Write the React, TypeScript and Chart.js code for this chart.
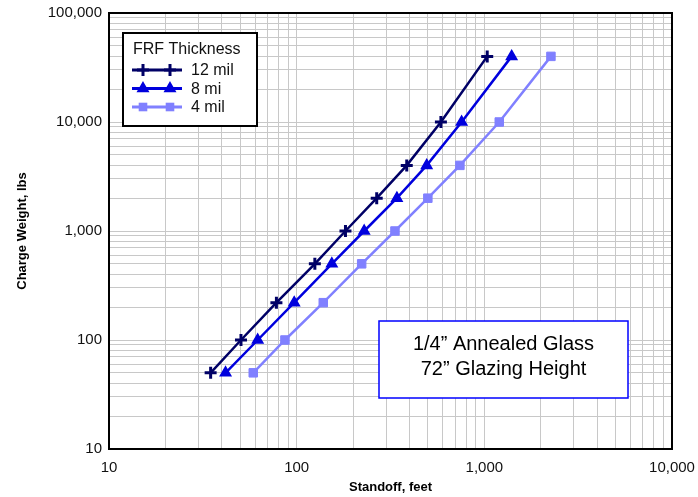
import React, { useEffect, useRef } from 'react';
import { Chart, registerables } from 'chart.js';

Chart.register(...registerables);

// ---- Data ----
const chargeWeights = [50, 100, 220, 500, 1000, 2000, 4000, 10000, 40000];
const standoff12mil = [34.8, 50.5, 78, 125, 182, 267, 386, 587, 1036];
const standoff8mil = [41.8, 62, 97, 154, 229, 342, 493, 757, 1398];
const standoff4mil = [58.7, 86.6, 138.6, 222, 334, 500, 741, 1201, 2264];
const seriesNames = ['12 mil', '8 mi', '4 mil'];
const seriesColors = ['#000066', '#0000dd', '#8080ff'];
const legendTitle = 'FRF Thickness';
const noteLines = ['1/4\u201D Annealed Glass', '72\u201D Glazing Height'];
const xDecades = [10, 100, 1000, 10000];
const yDecades = [10, 100, 1000, 10000, 100000];
const xTitle = 'Standoff, feet';
const yTitle = 'Charge Weight, lbs';

const FONT = "'Liberation Sans', Arial, sans-serif";

function logTicks(decades: number[]) {
  const out: { value: number }[] = [];
  for (let i = 0; i < decades.length - 1; i++) {
    for (let m = 1; m <= 9; m++) out.push({ value: decades[i] * m });
  }
  out.push({ value: decades[decades.length - 1] });
  return out;
}

function isDecade(v: number) {
  const l = Math.log10(v);
  return Math.abs(l - Math.round(l)) < 1e-9;
}

function fmt(v: number) {
  return isDecade(v) ? Math.round(v).toLocaleString('en-US') : '';
}

function drawMarker(ctx: CanvasRenderingContext2D, kind: number, x: number, y: number, color: string) {
  ctx.save();
  ctx.fillStyle = color;
  ctx.strokeStyle = color;
  if (kind === 0) {
    ctx.lineWidth = 3;
    ctx.beginPath();
    ctx.moveTo(x - 6, y);
    ctx.lineTo(x + 6, y);
    ctx.moveTo(x, y - 6);
    ctx.lineTo(x, y + 6);
    ctx.stroke();
  } else if (kind === 1) {
    const r = 6;
    ctx.lineWidth = 1.5;
    ctx.beginPath();
    ctx.moveTo(x, y - r);
    ctx.lineTo(x + r * Math.sin((2 * Math.PI) / 3), y - r * Math.cos((2 * Math.PI) / 3));
    ctx.lineTo(x + r * Math.sin((4 * Math.PI) / 3), y - r * Math.cos((4 * Math.PI) / 3));
    ctx.closePath();
    ctx.fill();
    ctx.stroke();
  } else {
    const s = 4.3;
    ctx.fillRect(x - s, y - s, 2 * s, 2 * s);
  }
  ctx.restore();
}

const overlayPlugin = {
  id: 'overlay',
  afterDraw(chart: any) {
    const { ctx, chartArea } = chart;
    const { left, top, right, bottom } = chartArea;
    ctx.save();
    // full frame
    ctx.strokeStyle = '#000';
    ctx.lineWidth = 2;
    ctx.strokeRect(left, top, right - left, bottom - top);

    // legend box
    const lx = left + 14;
    const ly = top + 20;
    const lw = 134;
    const lh = 93;
    ctx.fillStyle = '#fff';
    ctx.fillRect(lx, ly, lw, lh);
    ctx.lineWidth = 2;
    ctx.strokeStyle = '#000';
    ctx.strokeRect(lx, ly, lw, lh);
    ctx.fillStyle = '#111';
    ctx.font = `16px ${FONT}`;
    ctx.textBaseline = 'middle';
    ctx.textAlign = 'left';
    ctx.fillText(legendTitle, lx + 10, ly + 17);
    for (let i = 0; i < seriesNames.length; i++) {
      const ry = ly + 37 + i * 18.5;
      ctx.strokeStyle = seriesColors[i];
      ctx.lineWidth = 3;
      ctx.beginPath();
      ctx.moveTo(lx + 9, ry);
      ctx.lineTo(lx + 59, ry);
      ctx.stroke();
      drawMarker(ctx, i, lx + 20, ry, seriesColors[i]);
      drawMarker(ctx, i, lx + 47, ry, seriesColors[i]);
      ctx.fillStyle = '#111';
      ctx.fillText(seriesNames[i], lx + 68, ry + 1);
    }

    // note box
    const nx = left + 270;
    const ny = top + 308;
    const nw = 249;
    const nh = 77;
    ctx.fillStyle = '#fff';
    ctx.fillRect(nx, ny, nw, nh);
    ctx.strokeStyle = '#0000ff';
    ctx.lineWidth = 1.5;
    ctx.strokeRect(nx, ny, nw, nh);
    ctx.fillStyle = '#000';
    ctx.font = `20px ${FONT}`;
    ctx.textAlign = 'center';
    ctx.fillText(noteLines[0], nx + nw / 2, ny + 23);
    ctx.fillText(noteLines[1], nx + nw / 2, ny + 48);
    ctx.restore();
  },
};

function zeroPad(s: any) {
  s.paddingLeft = 0;
  s.paddingRight = 0;
  s.paddingTop = 0;
  s.paddingBottom = 0;
}

export default function App() {
  const canvasRef = useRef<HTMLCanvasElement | null>(null);

  useEffect(() => {
    if (!canvasRef.current) return;
    const mk = (xs: number[]) => xs.map((x, i) => ({ x, y: chargeWeights[i] }));
    const chart = new Chart(canvasRef.current, {
      type: 'line',
      data: {
        datasets: [
          {
            label: seriesNames[0],
            data: mk(standoff12mil),
            borderColor: seriesColors[0],
            backgroundColor: seriesColors[0],
            borderWidth: 2.5,
            pointStyle: 'cross',
            pointRadius: 6,
            pointBorderWidth: 3,
          },
          {
            label: seriesNames[1],
            data: mk(standoff8mil),
            borderColor: seriesColors[1],
            backgroundColor: seriesColors[1],
            borderWidth: 2.5,
            pointStyle: 'triangle',
            pointRadius: 6,
            pointBorderWidth: 1.5,
          },
          {
            label: seriesNames[2],
            data: mk(standoff4mil),
            borderColor: seriesColors[2],
            backgroundColor: seriesColors[2],
            borderWidth: 2.5,
            pointStyle: 'rect',
            pointRadius: 6,
            pointBorderWidth: 1,
          },
        ],
      },
      options: {
        animation: false,
        responsive: false,
        devicePixelRatio: 1,
        layout: { padding: { top: 13, right: 26, left: 0, bottom: 0 } },
        plugins: {
          legend: { display: false },
          tooltip: { enabled: false },
        },
        scales: {
          x: {
            type: 'logarithmic',
            position: 'bottom',
            min: 10,
            max: 10000,
            afterBuildTicks: (s: any) => {
              s.ticks = logTicks(xDecades);
            },
            afterFit: (s: any) => {
              s.height = 48;
              zeroPad(s);
            },
            ticks: {
              autoSkip: false,
              maxRotation: 0,
              padding: 10,
              color: '#111',
              font: { family: FONT, size: 15 },
              callback: (v: any) => fmt(Number(v)),
            },
            grid: { color: '#c8c8c8', lineWidth: 1, drawTicks: false },
            border: { display: true, color: '#000', width: 2 },
            title: {
              display: true,
              text: xTitle,
              color: '#000',
              font: { family: FONT, size: 13, weight: 'bold' },
              padding: { top: 0, bottom: 2 },
            },
          },
          y: {
            type: 'logarithmic',
            position: 'left',
            min: 10,
            max: 100000,
            afterBuildTicks: (s: any) => {
              s.ticks = logTicks(yDecades);
            },
            afterFit: (s: any) => {
              s.width = 109;
              zeroPad(s);
            },
            ticks: {
              autoSkip: false,
              padding: 7,
              color: '#111',
              font: { family: FONT, size: 15 },
              callback: (v: any) => fmt(Number(v)),
            },
            grid: { color: '#c8c8c8', lineWidth: 1, drawTicks: false },
            border: { display: true, color: '#000', width: 2 },
            title: {
              display: true,
              text: yTitle,
              color: '#000',
              font: { family: FONT, size: 13, weight: 'bold' },
              padding: { top: 15, bottom: 0 },
            },
          },
        },
      },
      plugins: [overlayPlugin],
    } as any);
    return () => chart.destroy();
  }, []);

  return (
    <div style={{ position: 'absolute', left: 0, top: 0, width: 698, height: 497, background: '#fff' }}>
      <canvas ref={canvasRef} width={698} height={497} style={{ display: 'block' }} />
    </div>
  );
}
